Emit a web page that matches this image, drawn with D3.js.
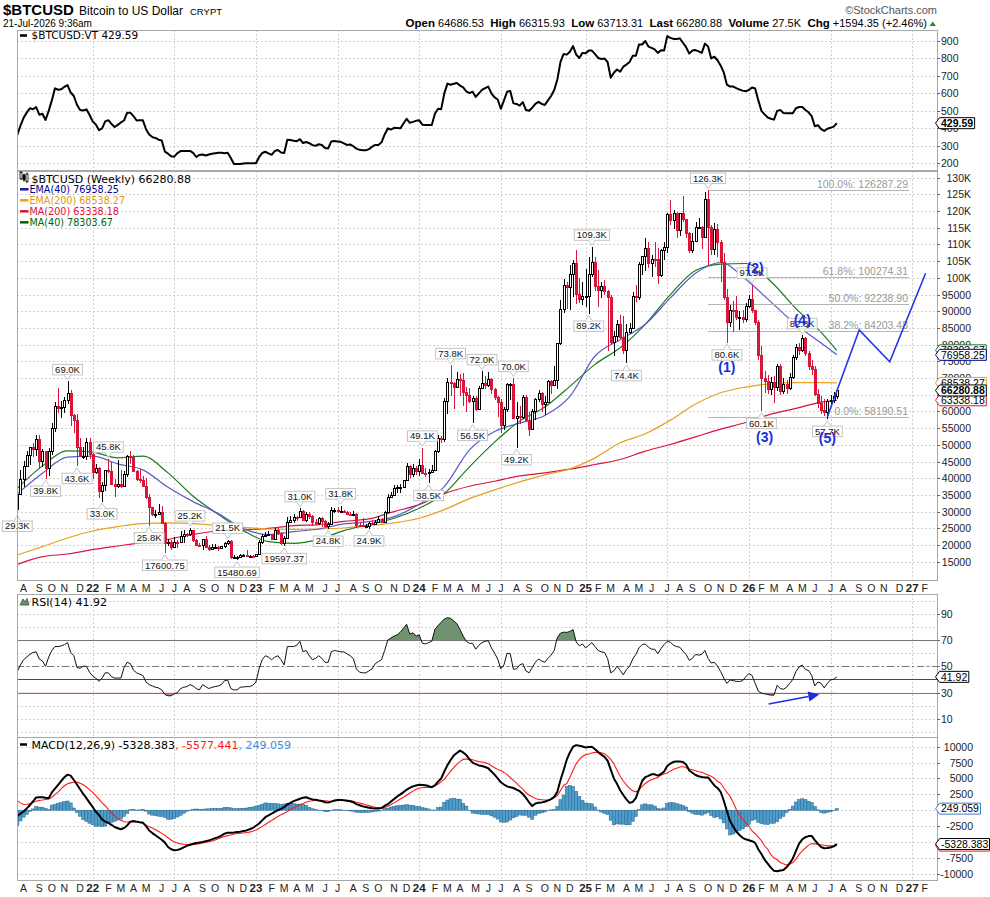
<!DOCTYPE html>
<html>
<head>
<meta charset="utf-8">
<title>$BTCUSD weekly</title>
<script src="https://cdn.jsdelivr.net/npm/d3@7/dist/d3.min.js"></script>
<style>
  body { margin: 0; background: #fff; }
  svg { display: block; }
  .ax { font-family: "Liberation Sans", Arial, sans-serif; font-size: 10.5px; fill: #222; }
  .lg { font-family: "DejaVu Sans", Verdana, sans-serif; }
  .grid { stroke: #d2d2d2; stroke-dasharray: 2,2; shape-rendering: crispEdges; }
  .frame { fill: none; stroke: #a8a8a8; shape-rendering: crispEdges; }
</style>
</head>
<body>
<svg id="chart" width="990" height="897"></svg>
<script>
// weekly bars, first bar Mon 19-Jul-2021, last bar Mon 20-Jul-2026
var firstWeek = new Date(2021, 6, 19);
var lastWeek = new Date(2026, 6, 20);
var firstOpenK = 30.8;

// prices in thousands of USD, one per week
var closeK = [
  35.4, 39.8, 43.8, 47.0, 49.3, 48.9, 51.8, 45.2, 48.3, 43.2,
  48.2, 55.0, 61.5, 60.9, 61.3, 63.3, 65.5, 59.0, 57.3, 49.4,
  46.7, 46.7, 50.8, 47.3, 41.9, 43.1, 36.3, 37.9, 42.4, 42.2,
  38.4, 37.7, 38.4, 37.8, 41.3, 46.8, 46.4, 42.2, 39.7, 39.5,
  37.7, 34.3, 31.3, 29.4, 29.4, 29.9, 26.6, 20.6, 21.0, 19.3,
  20.9, 20.8, 22.6, 23.3, 23.2, 24.4, 21.5, 20.0, 19.9, 21.8,
  19.4, 18.8, 19.3, 19.4, 19.2, 19.6, 20.6, 21.3, 16.3, 16.3,
  16.5, 17.1, 17.1, 16.8, 16.8, 16.6, 17.2, 20.9, 22.7, 23.1,
  23.3, 21.8, 24.6, 23.6, 20.5, 22.1, 26.9, 27.5, 28.5, 28.3,
  30.3, 27.6, 29.2, 28.8, 26.8, 26.7, 28.1, 27.1, 25.8, 26.3,
  30.5, 30.6, 30.2, 30.3, 29.8, 29.3, 29.0, 29.3, 26.1, 26.0,
  25.8, 25.8, 26.5, 26.2, 27.0, 27.9, 26.9, 29.9, 34.5, 35.0,
  37.1, 37.4, 37.4, 39.5, 43.8, 41.4, 43.0, 42.3, 43.9, 41.7,
  41.6, 42.0, 42.6, 48.3, 52.1, 51.7, 63.1, 68.9, 68.4, 67.2,
  69.6, 69.4, 65.7, 64.9, 63.1, 63.9, 60.8, 67.0, 68.5, 67.8,
  69.6, 66.6, 64.2, 62.7, 55.8, 60.8, 68.2, 68.3, 58.1, 58.7,
  58.4, 64.2, 57.3, 54.8, 60.0, 63.6, 65.6, 62.1, 62.9, 69.0,
  68.0, 69.4, 80.4, 90.6, 98.0, 97.2, 101.1, 104.5, 95.2, 93.7,
  94.5, 94.5, 101.3, 104.7, 97.7, 96.5, 97.5, 96.2, 94.2, 80.7,
  82.6, 86.1, 82.3, 78.4, 83.7, 85.1, 94.6, 94.3, 104.1, 106.5,
  109.0, 104.6, 105.7, 105.6, 100.9, 108.4, 109.2, 119.1, 117.3, 119.4,
  114.2, 119.3, 117.5, 113.5, 108.2, 111.1, 115.3, 115.3, 112.2, 123.5,
  115.2, 108.6, 114.5, 110.6, 104.7, 94.2, 86.8, 90.4, 90.3, 88.2,
  88.4, 87.8, 91.6, 93.8, 90.3, 86.9, 77.0, 70.1, 69.2, 66.7,
  68.9, 67.4, 73.6, 66.2, 68.3, 66.9, 70.3, 76.4, 79.3, 78.3,
  82.0, 77.4, 73.6, 72.8, 65.3, 62.4, 60.5, 59.8, 63.0, 63.5,
  64.69, 66.28
];
var highK = [
  35.5, 42.6, 45.3, 48.1, 49.5, 50.5, 52.9, 52.9, 48.8, 45.0,
  49.2, 56.5, 62.9, 67.0, 63.0, 64.3, 69.0, 66.3, 59.3, 59.2,
  51.9, 49.5, 51.9, 52.1, 47.5, 44.4, 43.5, 38.9, 42.6, 45.8,
  44.8, 39.8, 45.4, 42.6, 42.3, 47.1, 48.2, 47.0, 42.5, 42.9,
  40.8, 40.0, 35.4, 31.4, 30.6, 32.2, 31.6, 26.9, 21.9, 21.5,
  22.5, 21.6, 24.3, 24.6, 23.5, 25.2, 24.5, 21.8, 20.6, 21.9,
  22.7, 19.9, 20.4, 20.4, 19.7, 19.7, 21.0, 21.5, 21.4, 17.1,
  16.8, 17.4, 17.4, 18.4, 16.9, 16.9, 17.3, 21.4, 23.3, 23.8,
  24.2, 23.4, 25.2, 25.1, 23.9, 22.6, 28.4, 28.8, 29.2, 28.8,
  31.0, 30.5, 30.0, 29.8, 29.0, 27.7, 28.4, 28.4, 27.4, 26.8,
  31.4, 31.2, 31.4, 31.8, 30.4, 30.1, 29.9, 30.2, 29.7, 26.8,
  28.1, 26.4, 27.0, 27.5, 27.5, 28.6, 28.0, 30.3, 35.2, 35.9,
  37.9, 37.9, 38.4, 39.6, 44.7, 43.9, 44.3, 43.8, 45.9, 49.1,
  43.2, 42.8, 43.9, 48.6, 52.9, 52.5, 64.0, 70.1, 73.8, 68.9,
  71.8, 71.3, 71.5, 67.2, 67.1, 64.7, 64.5, 67.7, 72.0, 70.6,
  71.9, 69.9, 66.9, 64.5, 63.8, 61.4, 68.4, 68.6, 70.0, 62.7,
  61.7, 65.0, 64.9, 59.8, 60.6, 64.1, 66.5, 65.9, 64.5, 69.4,
  69.5, 73.6, 80.5, 93.5, 99.6, 98.7, 104.0, 105.3, 108.3, 99.9,
  98.9, 102.7, 106.4, 109.3, 106.4, 102.5, 98.9, 99.5, 96.5, 95.0,
  84.2, 87.5, 88.8, 88.5, 86.1, 86.4, 95.8, 97.9, 104.9, 106.7,
  111.9, 110.7, 106.8, 110.6, 108.9, 108.5, 110.6, 119.5, 123.2, 120.2,
  119.8, 119.5, 124.5, 117.6, 113.8, 113.4, 116.8, 117.9, 115.4, 125.7,
  126.3, 115.9, 116.3, 116.0, 111.2, 107.5, 96.6, 92.0, 93.1, 94.5,
  90.1, 90.4, 92.5, 95.0, 97.9, 90.5, 87.5, 79.5, 72.2, 71.0,
  70.4, 70.6, 74.2, 74.1, 70.0, 69.5, 71.5, 77.0, 80.3, 80.6,
  82.8, 82.3, 78.0, 75.3, 73.5, 66.6, 64.5, 63.8, 63.8, 64.9,
  65.8, 66.32
];
var lowK = [
  29.3, 35.2, 37.5, 43.8, 43.9, 46.3, 46.6, 42.8, 43.4, 39.8,
  40.8, 47.1, 53.9, 59.6, 57.9, 59.4, 62.3, 55.6, 53.6, 43.6,
  46.7, 45.7, 45.6, 45.7, 39.7, 41.3, 34.0, 33.0, 36.3, 41.7,
  38.0, 34.3, 37.2, 37.2, 37.7, 40.5, 44.3, 41.9, 39.2, 38.6,
  37.6, 33.7, 25.8, 28.7, 28.0, 29.3, 26.5, 17.6, 19.8, 18.6,
  19.1, 19.0, 20.8, 20.7, 22.4, 22.7, 20.8, 19.6, 19.6, 18.5,
  19.3, 18.1, 18.7, 19.1, 18.2, 18.9, 19.2, 20.1, 15.7, 15.8,
  15.48, 16.2, 16.7, 16.3, 16.4, 16.4, 16.5, 17.1, 20.4, 22.3,
  22.6, 21.4, 21.5, 22.9, 20.1, 19.6, 21.9, 26.6, 26.6, 27.3,
  28.2, 27.1, 26.9, 27.7, 25.8, 26.1, 26.1, 25.4, 25.4, 24.8,
  26.2, 29.5, 29.7, 29.9, 29.5, 28.9, 28.7, 28.7, 25.2, 25.8,
  25.4, 25.4, 24.9, 26.0, 25.9, 26.9, 26.6, 26.8, 29.8, 34.1,
  34.6, 35.5, 35.7, 37.3, 39.4, 40.2, 40.5, 41.0, 40.8, 41.5,
  40.3, 38.5, 41.9, 42.3, 47.7, 50.6, 50.9, 59.2, 64.5, 60.8,
  66.9, 64.5, 61.6, 59.7, 62.5, 56.5, 60.2, 60.6, 66.7, 66.6,
  67.4, 65.1, 63.4, 58.4, 53.5, 54.3, 59.7, 63.5, 57.8, 49.2,
  56.1, 57.8, 57.2, 52.6, 54.6, 57.5, 62.7, 59.8, 58.9, 62.4,
  65.1, 67.5, 66.8, 79.8, 89.4, 90.8, 90.5, 94.2, 92.2, 92.6,
  91.8, 91.2, 89.2, 100.2, 96.2, 91.2, 94.1, 94.8, 78.2, 80.1,
  76.6, 81.2, 81.6, 77.1, 74.4, 83.1, 84.9, 92.9, 93.4, 100.8,
  102.1, 103.1, 100.4, 103.4, 98.2, 100.4, 105.3, 107.5, 115.7, 114.7,
  112.0, 112.6, 116.8, 111.9, 107.3, 107.3, 110.6, 114.5, 108.6, 112.0,
  104.0, 107.0, 106.8, 106.3, 98.9, 93.5, 80.6, 85.3, 83.8, 87.5,
  84.5, 86.4, 86.9, 90.9, 89.5, 86.0, 75.5, 60.1, 65.4, 65.3,
  64.8, 62.6, 66.0, 65.0, 65.1, 65.3, 66.5, 69.8, 75.5, 76.8,
  77.9, 76.5, 72.5, 71.0, 64.5, 61.1, 59.2, 58.6, 57.7, 61.6,
  62.6, 63.71
];

// moving averages read every 8 weeks (week number from first bar), in thousands
var maWeeks = [0, 8, 16, 24, 32, 40, 48, 56, 64, 72, 80, 88, 96, 104, 112, 120, 128,
  136, 144, 152, 160, 168, 176, 184, 192, 200, 208, 216, 224, 232, 240, 248, 256, 261];
var ema40K = [35.3, 41.5, 46.3, 46.6, 44.3, 42.5, 37.3, 33.0, 29.4, 24.9, 23.1, 24.0, 24.8, 26.3, 27.0, 28.5, 32.2,
  37.5, 48.5, 54.0, 56.5, 58.8, 64.5, 76.6, 81.5, 86.1, 94.0, 101.4, 104.6, 99.6, 92.8, 86.0, 80.5, 76.96];
var ma40K = [37.0, 43.7, 48.2, 47.8, 46.1, 46.6, 41.6, 34.6, 29.2, 24.3, 21.0, 20.5, 21.7, 24.3, 26.1, 28.0, 31.0,
  35.4, 43.4, 50.8, 57.1, 61.3, 67.5, 74.1, 79.1, 86.1, 95.0, 102.2, 104.1, 104.3, 98.9, 90.8, 83.7, 78.3];
var ema200K = [17.0, 19.5, 22.1, 24.2, 25.5, 26.4, 26.6, 26.4, 25.9, 25.3, 24.8, 24.7, 24.8, 25.1, 25.8, 26.6, 28.0,
  30.6, 33.9, 36.5, 38.9, 41.0, 42.8, 46.1, 50.6, 53.3, 57.4, 62.2, 65.6, 67.3, 68.3, 68.6, 68.6, 68.54];
var ma200K = [14.2, 16.5, 17.3, 18.6, 19.7, 20.8, 21.7, 23.2, 24.2, 24.5, 25.0, 25.8, 26.1, 27.1, 27.8, 30.0, 32.1,
  35.4, 37.6, 39.1, 40.7, 41.6, 42.7, 44.1, 45.6, 48.1, 50.1, 52.4, 54.7, 56.7, 59.2, 60.9, 62.8, 63.34];

// last values printed in the legends
var lastClose = 66280.88;
var maNames = ["EMA(40)", "EMA(200)", "MA(200)", "MA(40)"];
var maLast = [76958.25, 68538.27, 63338.18, 78303.67];
var vtLast = 429.59, rsiLast = 41.92;
var macdLast = [-5328.383, -5577.441, 249.059];

// $BTCUSD:VT, weekly
var vtLine = [
  362, 415, 460, 490, 515, 509, 522, 478, 484, 448,
  500, 560, 629, 621, 624, 638, 648, 605, 585, 535,
  505, 502, 509, 478, 440, 422, 390, 400, 440, 447,
  425, 408, 420, 434, 445, 490, 490, 470, 445, 447,
  446, 395, 365, 350, 345, 335, 330, 267, 255, 240,
  238, 258, 270, 271, 270, 271, 260, 236, 248, 250,
  245, 250, 255, 258, 260, 260, 258, 261, 230, 196,
  196, 196, 199, 200, 200, 200, 200, 235, 259, 266,
  257, 249, 270, 276, 262, 259, 335, 333, 329, 326,
  338, 316, 322, 315, 304, 300, 309, 305, 287, 285,
  325, 327, 325, 323, 314, 305, 308, 298, 284, 277,
  275, 274, 281, 295, 305, 305, 320, 365, 400, 393,
  403, 402, 400, 428, 455, 432, 437, 443, 446, 421,
  419, 419, 419, 484, 512, 510, 600, 656, 650, 655,
  660, 645, 635, 612, 602, 610, 580, 600, 620, 630,
  639, 600, 578, 565, 512, 560, 610, 614, 543, 540,
  530, 550, 505, 501, 518, 540, 552, 540, 534, 560,
  585, 620, 680, 780, 826, 822, 839, 871, 822, 803,
  832, 830, 845, 845, 825, 803, 797, 800, 780, 690,
  718, 737, 724, 753, 765, 780, 815, 815, 880, 880,
  900, 868, 861, 852, 832, 847, 846, 928, 918, 912,
  911, 915, 890, 865, 828, 845, 848, 841, 832, 885,
  868, 800, 810, 790, 760, 720, 650, 639, 639, 630,
  622, 616, 612, 620, 634, 628, 560, 500, 480, 462,
  455, 450, 500, 505, 488, 486, 486, 487, 515, 522,
  522, 505, 492, 470, 412, 418, 395, 385, 398, 403,
  410, 429.59
];

// RSI(14), weekly
var rsiLine = [
  46, 51, 55, 57, 59, 60.5, 61, 55.5, 54, 50,
  57, 62, 65, 65, 65.5, 66.5, 68, 60.5, 58, 49,
  48.5, 50, 50, 45.5, 42.5, 41, 38.5, 41, 45, 45,
  42, 41, 41, 41, 49, 53, 52, 47, 45, 44,
  43, 38, 36, 35, 34, 33.5, 32, 28.5, 27.5, 27.5,
  29, 30, 33, 34, 34.5, 36, 35, 33, 32, 36,
  34.5, 33, 34, 34.5, 35, 36, 39, 39.5, 33, 32,
  32, 34, 34.2, 34.5, 34.5, 35.5, 38, 48, 55, 58,
  57, 55, 57, 58, 55, 51, 65, 65, 65, 66,
  69, 61, 62, 58, 55, 56, 58, 56, 53, 53,
  61, 62, 61.5, 61, 61, 59.5, 58, 56, 48, 45.5,
  45, 45, 46.5, 48, 52, 53.5, 55, 62, 70, 71.5,
  73, 74, 76, 79, 82, 74.5, 75.5, 73, 74, 67.5,
  67, 68, 69, 78, 81, 83.5, 86, 87, 86.5, 84.5,
  82.5, 78, 73, 69, 67.5, 67.5, 63, 66, 68, 69,
  69.5, 64, 60, 55.5, 48, 51, 60, 59.5, 47.7, 48,
  51, 52, 46.5, 45, 49, 53, 55.5, 54, 53, 56,
  58.5, 62, 72, 75.2, 76, 75.8, 76.5, 78, 68.5, 65.5,
  67, 64, 66, 68, 65, 62, 61, 60.5, 56, 45,
  46.5, 50, 47, 43.4, 47.5, 50, 55.5, 59, 64, 66.5,
  67, 64.5, 63, 63, 59.5, 63.5, 66.5, 69, 68.3, 66,
  65, 64.5, 61.5, 59, 54.5, 56, 59, 58.5, 59, 62,
  56, 52.5, 53, 50, 46, 41, 37, 39.6, 39, 38.5,
  38.4, 39, 42, 44.5, 43, 37, 31, 29.5, 29, 28.5,
  28, 28, 35.5, 33, 32.5, 34, 37, 40, 46, 49.5,
  51, 47.5, 46.8, 43, 35, 38, 37, 33.5, 37, 39.5,
  40, 41.92
];

// MACD(12,26,9) line and signal, weekly
var macdLine = [
  -900, -550, -200, 280, 790, 1400, 2000, 2040, 2040, 1950,
  1880, 2800, 3390, 4000, 4600, 5200, 5600, 5450, 4750, 4050,
  3300, 2557, 1900, 1200, 500, -250, -750, -1450, -1800, -2000,
  -2300, -2650, -2850, -3000, -2800, -2400, -1800, -1700, -1800, -1900,
  -1950, -2500, -3200, -3600, -3950, -4300, -4650, -5100, -5800, -6150,
  -6300, -6250, -6100, -5850, -5620, -5450, -5270, -5170, -5100, -5000,
  -4880, -4750, -4600, -4400, -4250, -4000, -3700, -3536, -3536, -3520,
  -3440, -3380, -3270, -3180, -3000, -2800, -2450, -2100, -1600, -1100,
  -800, -550, -250, 0, 200, 500, 900, 1150, 1420, 1600,
  1800, 1950, 2030, 1850, 1700, 1650, 1540, 1450, 1250, 1200,
  1350, 1530, 1590, 1610, 1560, 1500, 1400, 1260, 950, 780,
  600, 500, 400, 300, 266, 266, 330, 700, 950, 1350,
  1750, 2150, 2500, 2850, 3230, 3500, 3750, 3900, 4000, 3980,
  3930, 3800, 3620, 3900, 4500, 5000, 6100, 7100, 7900, 8600,
  9000, 9380, 9100, 8700, 8000, 7500, 7250, 7050, 6950, 6800,
  6600, 6100, 5600, 5000, 4400, 4050, 3750, 3600, 3495, 3250,
  3000, 2550, 1950, 1250, 650, 1050, 1180, 1230, 1330, 1520,
  1750, 2100, 2900, 4750, 6300, 7950, 9100, 10000, 10250, 10150,
  10020, 9880, 9950, 10000, 9600, 9150, 8750, 8400, 7800, 6400,
  5000, 4150, 3150, 2400, 1700, 1150, 1300, 1900, 3300, 4600,
  5200, 5400, 5650, 5650, 5450, 5700, 6100, 6950, 7350, 7620,
  7661, 7661, 7600, 7200, 6250, 5900, 5550, 5350, 5220, 5161,
  5161, 4550, 3900, 3500, 2900, 1500, -150, -1713, -2550, -3350,
  -3900, -4350, -4580, -4730, -4880, -5150, -6150, -6900, -7800, -8400,
  -9050, -9550, -9620, -9500, -9422, -9000, -8350, -7600, -6400, -5250,
  -4600, -4250, -4080, -4057, -4700, -5300, -5800, -5985, -5950, -5880,
  -5700, -5328.383
];
var signalLine = [
  1480, 1150, 900, 940, 995, 1200, 1400, 1550, 1600, 1680,
  1750, 2000, 2450, 2900, 3400, 3850, 4150, 4300, 4400, 4420,
  4250, 4015, 3650, 3250, 2800, 2300, 1750, 1150, 700, 100,
  -400, -900, -1300, -1600, -1820, -1850, -1870, -1840, -1817, -1950,
  -2100, -2350, -2600, -2820, -3080, -3350, -3650, -3950, -4350, -4700,
  -5000, -5180, -5300, -5370, -5420, -5463, -5420, -5360, -5260, -5150,
  -5080, -4960, -4850, -4680, -4500, -4300, -4150, -4000, -3900, -3750,
  -3680, -3630, -3580, -3520, -3450, -3300, -3100, -2850, -2550, -2250,
  -1900, -1620, -1300, -1000, -700, -480, -200, 109, 400, 630,
  850, 1047, 1250, 1400, 1480, 1550, 1560, 1530, 1490, 1440,
  1420, 1460, 1520, 1550, 1560, 1545, 1515, 1420, 1260, 1130,
  1000, 850, 720, 580, 450, 400, 370, 450, 620, 850,
  1150, 1450, 1760, 2040, 2350, 2700, 3000, 3300, 3450, 3580,
  3600, 3600, 3600, 3870, 4100, 4500, 4850, 5500, 6100, 6700,
  7250, 7650, 8000, 8050, 8070, 7950, 7800, 7650, 7600, 7450,
  7300, 7000, 6700, 6400, 6250, 5950, 5600, 5150, 4700, 4250,
  3755, 3350, 2750, 2350, 2100, 1850, 1700, 1650, 1600, 1550,
  1700, 2000, 2300, 3100, 3900, 4200, 5200, 6300, 7300, 8000,
  8450, 8750, 8850, 9000, 9100, 9120, 9040, 8900, 8500, 8000,
  7300, 6300, 5350, 4600, 4000, 3450, 3050, 2900, 3200, 3750,
  4200, 4550, 4800, 5000, 5200, 5500, 5750, 5850, 6150, 6450,
  6620, 6800, 6880, 6700, 6500, 6380, 6200, 6050, 5995, 5750,
  5550, 5350, 5050, 4550, 4276, 3500, 2800, 2193, 1200, 109,
  -700, -1400, -1970, -2500, -3270, -3700, -4250, -4800, -5600, -6150,
  -7000, -7500, -7800, -8224, -8450, -8640, -8500, -8250, -7700, -6950,
  -6400, -5950, -5500, -5255, -5300, -5360, -5450, -5520, -5620, -5620,
  -5620, -5577.441
];

// labelled swing highs / lows
var pivotWeek = [0, 9, 16, 19, 27, 29, 42, 47, 55, 67, 70, 85, 90, 99, 103, 112, 129, 131, 138, 145,
  148, 158, 159, 182, 183, 194, 220, 226, 234, 237, 250, 258];
var pivotPrice = [29300, 39800, 69000, 43600, 33000, 45800, 25800, 17600.75, 25200, 21500, 15480.69,
  19597.37, 31000, 24800, 31800, 24900, 49100, 38500, 73800, 56500, 72000, 70000, 49200, 89200,
  109300, 74400, 126300, 80600, 97900, 60100, 82800, 57700];
var pivotSide = ["L", "L", "H", "L", "L", "H", "L", "L", "H", "H", "L", "L", "H", "L", "H", "L", "H", "L",
  "H", "L", "H", "H", "L", "L", "H", "L", "H", "L", "H", "L", "H", "L"];

// fibonacci retracement
var fibPct = [100, 61.8, 50, 38.2, 0];
var fibPrice = [126287.29, 100274.31, 92238.90, 84203.48, 58190.51];
var fibFromWeek = 220, fibToWeek = 284;

// elliott wave count
var waveText = ["(1)", "(2)", "(3)", "(4)", "(5)"];
var waveWeek = [226, 235, 238, 250, 258];
var waveK = [73.4, 102.9, 52.4, 87.4, 52.0];

// projected path (blue)
var projDates = ["2026-06-29", "2026-09-08", "2026-11-15", "2027-02-03"];
var projK = [58.4, 84.4, 74.9, 101.4];

// rsi divergence arrow
var arrowDates = ["2026-02-18", "2026-06-11"];
var arrowRsi = [21.2, 28.5];

var quoteLabels = ["Open", "High", "Low", "Last", "Volume", "Chg"];
var quoteValues = ["64686.53", "66315.93", "63713.31", "66280.88", "27.5K", "+1594.35 (+2.46%)"];

// ------------------------------------------------------------------
var svg = d3.select("#chart");
var L = 17, R = 937;
var P = { vt: [30, 170], price: [171, 580], rsi: [594, 737], macd: [737, 880] };
var SANS = "Liberation Sans, Arial, sans-serif";
var parseDay = d3.timeParse("%Y-%m-%d");

function wk(i) { return new Date(firstWeek.getTime() + i * 7 * 864e5); }

var x = d3.scaleTime().domain([firstWeek, lastWeek]).range([17.3, 836.8]);
var yVT = d3.scaleLinear().domain([200, 900]).range([163.3, 41]);
var yP = d3.scaleLinear().domain([15, 130]).range([561.7, 177.7]);
var yR = d3.scaleLinear().domain([30, 70]).range([692.5, 640]);
var yM = d3.scaleLinear().domain([-10000, 10000]).range([873.7, 746.7]);

var defs = svg.append("defs");
Object.keys(P).forEach(function(k) {
    defs.append("clipPath").attr("id", "clip-" + k)
        .append("rect").attr("x", L).attr("y", P[k][0]).attr("width", R - L).attr("height", P[k][1] - P[k][0]);
});
defs.append("clipPath").attr("id", "clip-rsi-hi")
    .append("rect").attr("x", L).attr("y", P.rsi[0]).attr("width", R - L).attr("height", yR(70) - P.rsi[0]);
defs.append("clipPath").attr("id", "clip-rsi-lo")
    .append("rect").attr("x", L).attr("y", yR(30)).attr("width", R - L).attr("height", P.rsi[1] - yR(30));

// half-year grid (first weekly bar of Jan / Jul)
var halfYears = d3.timeMonths(new Date(2022, 0, 1), new Date(2027, 1, 1), 6)
    .map(function(m) { return d3.timeMonday.ceil(m); });

function grid(p, yVals) {
    var g = svg.append("g");
    yVals.forEach(function(yy) {
        if (yy <= p[0] || yy >= p[1]) return;
        g.append("line").attr("class", "grid").attr("x1", L).attr("x2", R)
            .attr("y1", Math.round(yy) + 0.5).attr("y2", Math.round(yy) + 0.5);
    });
    halfYears.forEach(function(d) {
        var xx = Math.round(x(d)) + 0.5;
        g.append("line").attr("class", "grid").attr("x1", xx).attr("x2", xx).attr("y1", p[0]).attr("y2", p[1]);
    });
}

function axisLabels(vals, scale, fmt, anchorX, anchor) {
    var g = svg.append("g");
    vals.forEach(function(v) {
        var yy = Math.round(scale(v)) + 0.5;
        g.append("line").attr("x1", R).attr("x2", R + 3).attr("y1", yy).attr("y2", yy)
            .attr("stroke", "#666").attr("shape-rendering", "crispEdges");
        g.append("text").attr("class", "ax").attr("x", anchorX).attr("y", yy + 3.8)
            .attr("text-anchor", anchor).text(fmt(v));
    });
}

function frame(p) {
    svg.append("rect").attr("class", "frame").attr("x", L + 0.5).attr("y", p[0] + 0.5)
        .attr("width", R - L).attr("height", p[1] - p[0]);
}

// value tag on the right axis
function tag(yy, label, border, bold, textColor) {
    var g = svg.append("g");
    var path = g.append("path").attr("fill", "#fff").attr("stroke", border).attr("stroke-width", 1);
    var t = g.append("text").attr("x", R + 4).attr("y", yy + 3.8)
        .attr("font-family", SANS).attr("font-size", 10.5)
        .attr("font-weight", bold ? "bold" : "normal").attr("fill", textColor || "#000").text(label);
    var w = t.node().getComputedTextLength();
    var x0 = R - 1.5, x1 = R + 2.5, x2 = Math.min(989.5, R + 5.5 + w);
    path.attr("d", "M" + x0 + "," + yy + "L" + x1 + "," + (yy - 5.5) + "L" + x2 + "," + (yy - 5.5) +
        "L" + x2 + "," + (yy + 5.5) + "L" + x1 + "," + (yy + 5.5) + "Z");
}

// month letters along a row
function monthRow(yBase) {
    var g = svg.append("g").attr("font-family", SANS).attr("fill", "#222");
    var letters = "JFMAMJJASOND";
    d3.timeMonths(new Date(2021, 7, 1), new Date(2027, 2, 1)).forEach(function(m) {
        var xx = x(d3.timeMonday.ceil(m));
        var isYear = m.getMonth() === 0;
        g.append("text").attr("x", xx).attr("y", yBase).attr("text-anchor", "middle")
            .attr("font-size", isYear ? 11.5 : 10.5).attr("font-weight", isYear ? "bold" : "normal")
            .text(isYear ? String(m.getFullYear()).slice(2) : letters[m.getMonth()]);
    });
}

// ---------------- header ----------------
var hdr = svg.append("g").attr("font-family", SANS).attr("fill", "#000");
hdr.append("text").attr("x", 3).attr("y", 15).attr("font-size", 15).attr("font-weight", "bold").text("$BTCUSD");
hdr.append("text").attr("x", 79).attr("y", 15).attr("font-size", 12).text("Bitcoin to US Dollar");
hdr.append("text").attr("x", 190).attr("y", 15).attr("font-size", 9.5).text("CRYPT");
hdr.append("text").attr("x", 3).attr("y", 27).attr("font-size", 10).text("21-Jul-2026 9:36am");
hdr.append("text").attr("x", 937).attr("y", 14).attr("text-anchor", "end").attr("font-size", 11)
    .attr("fill", "#555").text("\u00a9StockCharts.com");
var quote = hdr.append("text").attr("x", 927).attr("y", 27).attr("text-anchor", "end")
    .attr("font-size", 11.5).style("white-space", "pre");
quoteLabels.forEach(function(lbl, i) {
    quote.append("tspan").attr("font-weight", "bold").text((i ? "  " : "") + lbl);
    quote.append("tspan").attr("font-size", 11).text(" " + quoteValues[i]);
});
hdr.append("path").attr("d", "M929.5,26L936,26L932.75,21.5Z").attr("fill", "#2a8a2a");

// ---------------- VT panel ----------------
grid(P.vt, d3.range(100, 1001, 100).map(yVT));
svg.append("path").datum(vtLine).attr("clip-path", "url(#clip-vt)")
    .attr("fill", "none").attr("stroke", "#000").attr("stroke-width", 2).attr("stroke-linejoin", "round")
    .attr("d", d3.line().x(function(d, i) { return x(wk(i)); }).y(function(d) { return yVT(d); }));
frame(P.vt);
axisLabels(d3.range(200, 901, 100), yVT, String, R + 4, "start");
svg.append("line").attr("x1", 20).attr("x2", 27).attr("y1", 35.5).attr("y2", 35.5).attr("stroke", "#000").attr("stroke-width", 2.5);
svg.append("text").attr("class", "lg").attr("x", 31.5).attr("y", 39).attr("font-size", 10.5)
    .text("$BTCUSD:VT " + vtLast.toFixed(2));
tag(yVT(vtLast), vtLast.toFixed(2), "#000", true);

// ---------------- price panel ----------------
grid(P.price, d3.range(15, 131, 5).map(yP));

var maG = svg.append("g").attr("clip-path", "url(#clip-price)").attr("fill", "none");
var maLine = d3.line().curve(d3.curveMonotoneX)
    .x(function(d, i) { return x(wk(maWeeks[i])); }).y(function(d) { return yP(d); });
[[ma200K, "#dc143c"], [ema200K, "#e8a020"], [ma40K, "#1b7a1b"], [ema40K, "#5a5ac8"]].forEach(function(s) {
    maG.append("path").datum(s[0]).attr("stroke", s[1]).attr("stroke-width", 1.2).attr("d", maLine);
});

// fib levels
var fibG = svg.append("g");
fibPct.forEach(function(p, i) {
    var yy = Math.round(yP(fibPrice[i] / 1000)) + 0.5;
    var x1 = x(wk(fibFromWeek)), x2 = x(wk(fibToWeek));
    fibG.append("line").attr("x1", x1).attr("x2", x2).attr("y1", yy).attr("y2", yy)
        .attr("stroke", "#b4b4b4").attr("shape-rendering", "crispEdges");
    fibG.append("text").attr("x", x2 - 1).attr("y", yy - 3).attr("text-anchor", "end")
        .attr("font-family", SANS).attr("font-size", 10.5).attr("fill", "#999")
        .text(p.toFixed(1) + "%: " + fibPrice[i].toFixed(2));
});

// candles
var cg = svg.append("g").attr("clip-path", "url(#clip-price)").attr("shape-rendering", "crispEdges");
var lastIdx = closeK.length - 1;
closeK.forEach(function(c, i) {
    var o = i === 0 ? firstOpenK : closeK[i - 1];
    var up = c >= o;
    var cx = Math.round(x(wk(i))) + 0.5;
    var col = up ? "#000" : "#d8163a";
    cg.append("line").attr("x1", cx).attr("x2", cx).attr("y1", yP(highK[i])).attr("y2", yP(lowK[i])).attr("stroke", col);
    var top = Math.round(yP(Math.max(o, c))), bot = Math.round(yP(Math.min(o, c)));
    var h = Math.max(1, bot - top);
    if (up) {
        cg.append("rect").attr("x", cx - 1).attr("y", top + 0.5).attr("width", 2).attr("height", h)
            .attr("fill", i === lastIdx ? "#ffff55" : "#fff").attr("stroke", "#000");
    } else {
        cg.append("rect").attr("x", cx - 1.5).attr("y", top).attr("width", 3).attr("height", h + 1).attr("fill", col);
    }
});

// projection
svg.append("path").datum(projK).attr("clip-path", "url(#clip-price)")
    .attr("fill", "none").attr("stroke", "#2238e8").attr("stroke-width", 1.6)
    .attr("d", d3.line().x(function(d, i) { return x(parseDay(projDates[i])); }).y(function(d) { return yP(d); }));

// swing labels
var pg = svg.append("g").attr("font-family", SANS).attr("font-size", 9.5);
pivotWeek.forEach(function(w, i) {
    var v = pivotPrice[i];
    var txt = v < 20000 ? v.toFixed(2) : (v / 1000).toFixed(1) + "K";
    var cx = x(wk(w)), yy = yP(v / 1000);
    var hi = pivotSide[i] === "H";
    var box = pg.append("rect").attr("fill", "#fff").attr("stroke", "#c4c4c4");
    var ptr = pg.append("path").attr("fill", "#fff").attr("stroke", "#c4c4c4");
    var boxTop = hi ? yy - 17 : yy + 7;
    var t = pg.append("text").attr("x", cx).attr("y", boxTop + 8.5).attr("text-anchor", "middle").attr("fill", "#111").text(txt);
    var tw = t.node().getComputedTextLength();
    box.attr("x", cx - tw / 2 - 2.5).attr("y", boxTop).attr("width", tw + 5).attr("height", 10.5);
    var edge = hi ? boxTop + 10.5 : boxTop, tip = hi ? yy - 1.5 : yy + 1.5;
    ptr.attr("d", "M" + (cx - 3.5) + "," + edge + "L" + cx + "," + tip + "L" + (cx + 3.5) + "," + edge);
});

// wave count
var wg = svg.append("g").attr("font-family", SANS).attr("font-size", 14).attr("font-weight", "bold").attr("fill", "#1a2ee0");
waveText.forEach(function(s, i) {
    wg.append("text").attr("x", x(wk(waveWeek[i]))).attr("y", yP(waveK[i])).attr("dy", "0.36em")
        .attr("text-anchor", "middle").text(s);
});

frame(P.price);
axisLabels(d3.range(15, 131, 5), yP, function(v) { return v >= 100 ? v + "K" : String(v * 1000); }, 971, "end");

// legend
var lgP = svg.append("g").attr("class", "lg");
[[172.5, 178.5], [175, 180], [174, 181.5]].forEach(function(c, i) {
    var cx = 21 + i * 3;
    lgP.append("line").attr("x1", cx).attr("x2", cx).attr("y1", c[0] - 1.5).attr("y2", c[1] + 1.5).attr("stroke", "#000");
    lgP.append("rect").attr("x", cx - 1).attr("y", c[0]).attr("width", 2).attr("height", c[1] - c[0])
        .attr("fill", i === 1 ? "#000" : "#fff").attr("stroke", "#000").attr("stroke-width", 0.8);
});
lgP.append("text").attr("x", 31.5).attr("y", 182.5).attr("font-size", 11)
    .text("$BTCUSD (Weekly) " + lastClose.toFixed(2));
var maText = ["#000090", "#e09a10", "#dc143c", "#006400"];
var maDash = ["#1a1a9a", "#e8a020", "#dc143c", "#006400"];
maNames.forEach(function(n, i) {
    var yy = 189.3 + i * 11;
    lgP.append("line").attr("x1", 20).attr("x2", 28.5).attr("y1", yy).attr("y2", yy).attr("stroke", maDash[i]).attr("stroke-width", 2.5);
    lgP.append("text").attr("x", 29.5).attr("y", yy + 3.6).attr("font-size", 9.6).attr("fill", maText[i])
        .text(n + " " + maLast[i].toFixed(2));
});

// right-axis tags (lowest first, close on top)
tag(yP(maLast[3] / 1000), maLast[3].toFixed(2), "#1b7a1b", false);
tag(yP(maLast[0] / 1000), maLast[0].toFixed(2), "#00008b", false);
tag(yP(maLast[1] / 1000), maLast[1].toFixed(2), "#e8a020", false);
tag(yP(maLast[2] / 1000), maLast[2].toFixed(2), "#dc143c", false);
tag(yP(lastClose / 1000), lastClose.toFixed(2), "#000", true);

monthRow(591.5);

// ---------------- RSI panel ----------------
grid(P.rsi, d3.range(0, 101, 10).map(yR));
var rsiX = function(d, i) { return x(wk(i)); };
svg.append("path").datum(rsiLine).attr("clip-path", "url(#clip-rsi-hi)").attr("fill", "#6f9270")
    .attr("d", d3.area().x(rsiX).y0(yR(70)).y1(function(d) { return yR(d); }));
svg.append("path").datum(rsiLine).attr("clip-path", "url(#clip-rsi-lo)").attr("fill", "#d98a8e")
    .attr("d", d3.area().x(rsiX).y0(yR(30)).y1(function(d) { return yR(d); }));
var rsiLevels = [70, 30, 50, 40];
var rsiLevelColor = ["#777", "#777", "#777", "#c8102e"];
var rsiLevelDash = [null, null, "7,3,2,3", null];
rsiLevels.forEach(function(lv, i) {
    var yy = Math.round(yR(lv)) + 0.5;
    svg.append("line").attr("x1", L).attr("x2", R).attr("y1", yy).attr("y2", yy).attr("stroke", rsiLevelColor[i])
        .attr("stroke-width", 1.2).attr("stroke-dasharray", rsiLevelDash[i]).attr("shape-rendering", "crispEdges");
});
svg.append("path").datum(rsiLine).attr("clip-path", "url(#clip-rsi)").attr("fill", "none")
    .attr("stroke", "#111").attr("stroke-width", 1).attr("d", d3.line().x(rsiX).y(function(d) { return yR(d); }));

// divergence arrow
(function() {
    var x1 = x(parseDay(arrowDates[0])), y1 = yR(arrowRsi[0]);
    var x2 = x(parseDay(arrowDates[1])), y2 = yR(arrowRsi[1]);
    var a = Math.atan2(y2 - y1, x2 - x1), len = 11, hw = 5;
    var bx = x2 - len * Math.cos(a), by = y2 - len * Math.sin(a);
    svg.append("line").attr("x1", x1).attr("y1", y1).attr("x2", bx).attr("y2", by).attr("stroke", "#1a2ee0").attr("stroke-width", 1.5);
    svg.append("path").attr("fill", "#1a2ee0").attr("d",
        "M" + x2 + "," + y2 +
        "L" + (bx + hw * Math.sin(a)) + "," + (by - hw * Math.cos(a)) +
        "L" + (bx - hw * Math.sin(a)) + "," + (by + hw * Math.cos(a)) + "Z");
})();

frame(P.rsi);
axisLabels([10, 30, 50, 70, 90], yR, String, R + 4, "start");
svg.append("path").attr("d", "M20,605L23,599L25,602L27,598.5L29,605Z").attr("fill", "#6f9270").attr("stroke", "#2f4f2f").attr("stroke-width", 0.8);
svg.append("text").attr("class", "lg").attr("x", 31.5).attr("y", 605.5).attr("font-size", 11)
    .text("RSI(14) " + rsiLast.toFixed(2));
tag(yR(rsiLast), rsiLast.toFixed(2), "#000", false);

// ---------------- MACD panel ----------------
grid(P.macd, d3.range(-12500, 12501, 2500).map(yM));
var hg = svg.append("g").attr("clip-path", "url(#clip-macd)");
macdLine.forEach(function(m, i) {
    var hv = m - signalLine[i];
    var y0 = yM(0), y1 = yM(hv);
    hg.append("rect").attr("x", x(wk(i)) - 1.57).attr("width", 3.14)
        .attr("y", Math.min(y0, y1)).attr("height", Math.max(0.5, Math.abs(y1 - y0)))
        .attr("fill", "#4f9dca").attr("stroke", "#25648f").attr("stroke-width", 0.5);
});
var mLine = d3.line().x(function(d, i) { return x(wk(i)); }).y(function(d) { return yM(d); });
svg.append("path").datum(signalLine).attr("clip-path", "url(#clip-macd)").attr("fill", "none")
    .attr("stroke", "#ff1a1a").attr("stroke-width", 1.1).attr("d", mLine);
svg.append("path").datum(macdLine).attr("clip-path", "url(#clip-macd)").attr("fill", "none")
    .attr("stroke", "#000").attr("stroke-width", 2).attr("stroke-linejoin", "round").attr("d", mLine);
frame(P.macd);
axisLabels([10000, 7500, 5000, 2500, -2500, -7500, -10000], yM, String, 973, "end");

svg.append("line").attr("x1", 20).attr("x2", 27).attr("y1", 744.5).attr("y2", 744.5).attr("stroke", "#000").attr("stroke-width", 2.5);
var ml = svg.append("text").attr("class", "lg").attr("x", 31.5).attr("y", 748.5).attr("font-size", 11);
ml.append("tspan").attr("fill", "#000").text("MACD(12,26,9) " + macdLast[0].toFixed(3));
ml.append("tspan").attr("fill", "#ff1a1a").text(", " + macdLast[1].toFixed(3));
ml.append("tspan").attr("fill", "#3a8ee0").text(", " + macdLast[2].toFixed(3));

tag(yM(macdLast[2]), macdLast[2].toFixed(3), "#3a7fc4", false);
tag(yM(macdLast[1]), macdLast[1].toFixed(3), "#ff1a1a", false, "#ff1a1a");
tag(yM(macdLast[0]), macdLast[0].toFixed(3), "#000", false);

monthRow(891.5);
</script>
</body>
</html>
